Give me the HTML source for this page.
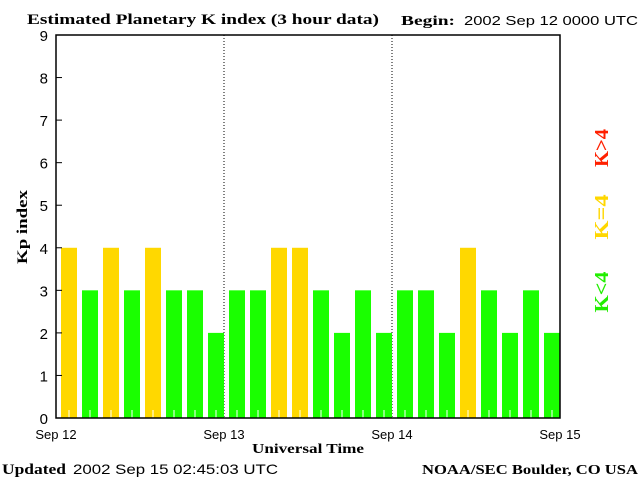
<!DOCTYPE html>
<html><head><meta charset="utf-8"><style>
body{margin:0;background:#fff;}
svg{display:block;}
text{font-family:"Liberation Sans",sans-serif;}
.s{font-family:"Liberation Serif",serif;font-weight:bold;}
</style></head><body>
<svg width="640" height="480">
<text class="s" x="27" y="24" font-size="15" textLength="352" lengthAdjust="spacingAndGlyphs">Estimated Planetary K index (3 hour data)</text>
<text class="s" x="401" y="25" font-size="14" textLength="54" lengthAdjust="spacingAndGlyphs">Begin:</text>
<text x="464" y="25" font-size="13" textLength="174" lengthAdjust="spacingAndGlyphs">2002 Sep 12 0000 UTC</text>
<g id="grid"></g>
<g id="bars"></g>
<rect x="56" y="35" width="504" height="383" fill="none" stroke="#000" stroke-width="1.5"/>
<g id="axes"></g>
<text class="s" x="308" y="453" font-size="14" text-anchor="middle" textLength="112" lengthAdjust="spacingAndGlyphs">Universal Time</text>
<text class="s" transform="translate(27,227) rotate(-90)" font-size="15" text-anchor="middle" textLength="74" lengthAdjust="spacingAndGlyphs">Kp index</text>
<text class="s" transform="translate(608,148) rotate(-90)" font-size="20" fill="#ff2000" text-anchor="middle" textLength="38" lengthAdjust="spacingAndGlyphs">K&gt;4</text>
<text class="s" transform="translate(608,217) rotate(-90)" font-size="20" fill="#ffd700" text-anchor="middle" textLength="45" lengthAdjust="spacingAndGlyphs">K=4</text>
<text class="s" transform="translate(608,292) rotate(-90)" font-size="20" fill="#22ee00" text-anchor="middle" textLength="41" lengthAdjust="spacingAndGlyphs">K&lt;4</text>
<text class="s" x="2" y="474" font-size="15" textLength="64" lengthAdjust="spacingAndGlyphs">Updated</text>
<text x="73" y="474" font-size="14" textLength="205" lengthAdjust="spacingAndGlyphs">2002 Sep 15 02:45:03 UTC</text>
<text class="s" x="422" y="474" font-size="14" textLength="216" lengthAdjust="spacingAndGlyphs">NOAA/SEC Boulder, CO USA</text>
</svg>
<script>
const kpValues=[4,3,4,3,4,3,3,2,3,3,4,4,3,2,3,2,3,3,2,4,3,2,3,2];
const dayLabels=["Sep 12","Sep 13","Sep 14","Sep 15"];
const yTicks=[0,1,2,3,4,5,6,7,8,9];
const NS="http://www.w3.org/2000/svg";
const X0=56,X1=560,Y0=418,Y1=35;
const x=i=>X0+(X1-X0)*i/kpValues.length;
const y=v=>Y0-(Y0-Y1)*v/9;
function mk(t,a,p){const e=document.createElementNS(NS,t);for(const k in a)e.setAttribute(k,a[k]);p.appendChild(e);return e;}
const bars=document.getElementById('bars'),axes=document.getElementById('axes'),grid=document.getElementById('grid');
const bw=(X1-X0)/kpValues.length;
kpValues.forEach((v,i)=>{
 const col=v>4?'#ff2000':(v==4?'#ffd800':'#1aff00');
 const r=mk('rect',{x:x(i)+5,y:y(v),width:bw-5,height:Y0-y(v),fill:col},bars);
 
 
 mk('line',{x1:x(i)+2.5+bw/2,x2:x(i)+2.5+bw/2,y1:Y0-8,y2:Y0,stroke:'#fff'},bars);
});
yTicks.forEach(t=>{
 mk('line',{x1:X0,x2:X0+6,y1:y(t),y2:y(t),stroke:'#000'},axes);
 const tx=mk('text',{x:48,y:y(t)+6,'font-size':15,'text-anchor':'end'},axes);
 tx.textContent=t;
 
 
});
dayLabels.forEach((d,i)=>{
 const px=X0+(X1-X0)*i/(dayLabels.length-1);
 if(i>0&&i<dayLabels.length-1){const l=mk('line',{x1:px,x2:px,y1:Y1,y2:Y0,stroke:'#000','stroke-dasharray':'1,2'},grid);
  
  }
 const tx=mk('text',{x:px,y:439,'font-size':13,'text-anchor':'middle'},axes);
 tx.textContent=d;
 
 
});
</script>
</body></html>
